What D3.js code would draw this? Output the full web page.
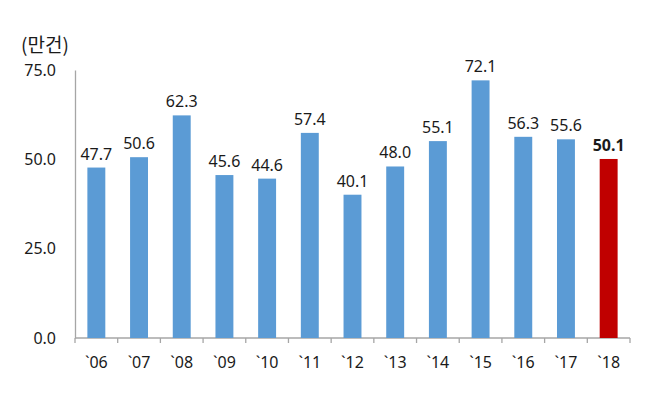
<!DOCTYPE html>
<html>
<head>
<meta charset="utf-8">
<script src="https://d3js.org/d3.v7.min.js"></script>
<style>
  body { margin: 0; background: #fff; }
  text { font-family: "Noto Sans", "Noto Sans CJK KR", sans-serif; fill: #1a1a1a; }
</style>
</head>
<body>
<script>
// chart data
var years = ["`06", "`07", "`08", "`09", "`10", "`11", "`12", "`13", "`14", "`15", "`16", "`17", "`18"];
var values = [47.7, 50.6, 62.3, 45.6, 44.6, 57.4, 40.1, 48.0, 55.1, 72.1, 56.3, 55.6, 50.1];
var yTicks = [0, 25, 50, 75];
var unitLabel = "(만건)";

var width = 650, height = 394;
var plotLeft = 75, plotRight = 630, plotTop = 70, plotBottom = 338;

var svg = d3.select("body").append("svg")
    .attr("width", width)
    .attr("height", height);

var x = d3.scaleBand().domain(years).range([plotLeft, plotRight]).paddingInner(0.58).paddingOuter(0.29);
var xTick = d3.scaleBand().domain(years).range([plotLeft, plotRight]);
var y = d3.scaleLinear().domain([0, 75]).range([plotBottom, plotTop]);

// y axis
var yAxis = svg.append("g")
    .attr("transform", "translate(" + plotLeft + ",0)")
    .call(d3.axisLeft(y).tickValues(yTicks).tickFormat(d3.format(".1f")).tickSize(0).tickPadding(19));
yAxis.select(".domain").attr("stroke", "#a6a6a6").attr("stroke-width", 1.3);
yAxis.selectAll("text").style("font-size", "16px").style("font-family", "Noto Sans").attr("fill", "#1a1a1a");

// x axis line + ticks between categories
var xg = svg.append("g");
xg.append("line")
    .attr("x1", plotLeft).attr("x2", plotRight)
    .attr("y1", plotBottom).attr("y2", plotBottom)
    .attr("stroke", "#a6a6a6").attr("stroke-width", 1.3);
xg.selectAll(".tk")
    .data(years.concat(["end"]))
    .enter().append("line")
    .attr("x1", function (d, i) { return plotLeft + i * xTick.bandwidth(); })
    .attr("x2", function (d, i) { return plotLeft + i * xTick.bandwidth(); })
    .attr("y1", plotBottom).attr("y2", plotBottom + 5)
    .attr("stroke", "#a6a6a6").attr("stroke-width", 1.3);
xg.selectAll(".lbl")
    .data(years)
    .enter().append("text")
    .attr("x", function (d) { return xTick(d) + xTick.bandwidth() / 2; })
    .attr("y", plotBottom + 30)
    .attr("text-anchor", "middle")
    .style("font-size", "16px")
    .text(function (d) { return d; });

// bars
svg.selectAll(".bar")
    .data(values)
    .enter().append("rect")
    .attr("x", function (d, i) { return x(years[i]); })
    .attr("width", x.bandwidth())
    .attr("y", function (d) { return y(d); })
    .attr("height", function (d) { return plotBottom - y(d); })
    .attr("fill", function (d, i) { return i === values.length - 1 ? "#c00000" : "#5b9bd5"; });

// value labels
svg.selectAll(".val")
    .data(values)
    .enter().append("text")
    .attr("x", function (d, i) { return x(years[i]) + x.bandwidth() / 2; })
    .attr("y", function (d) { return y(d) - 8; })
    .attr("text-anchor", "middle")
    .style("font-size", "16px")
    .style("font-weight", function (d, i) { return i === values.length - 1 ? "bold" : "normal"; })
    .text(function (d) { return d.toFixed(1); });

// unit
svg.append("text")
    .attr("x", 21).attr("y", 52)
    .style("font-size", "19px")
    .style("font-family", "Noto Sans CJK KR")
    .text(unitLabel);
</script>
</body>
</html>
